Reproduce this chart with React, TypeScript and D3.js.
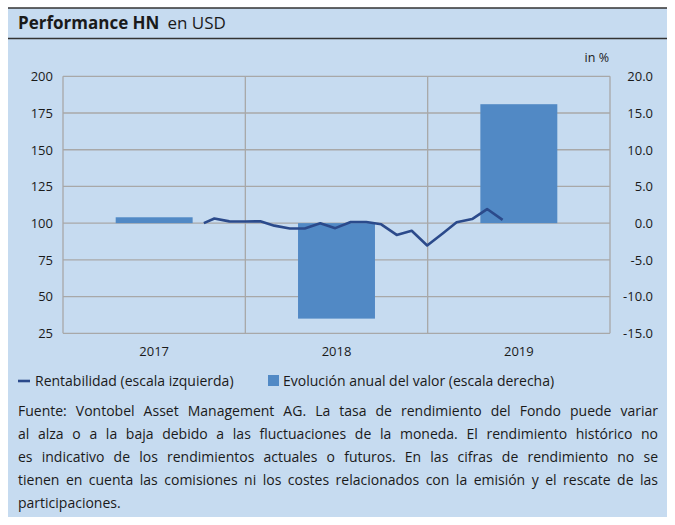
import React from "react";
import * as d3 from "d3";

const years = ["2017", "2018", "2019"];
const annualPerf = [0.8, -13.0, 16.2];

const lineDates = [
  "2017-10-10", "2017-10-31", "2017-11-30", "2017-12-31",
  "2018-01-31", "2018-02-28", "2018-03-31", "2018-04-30", "2018-05-31", "2018-06-30",
  "2018-07-31", "2018-08-31", "2018-09-30", "2018-10-31", "2018-11-30", "2018-12-31",
  "2019-01-31", "2019-02-28", "2019-03-31", "2019-04-30", "2019-05-31",
];
const lineValues = [
  100, 103.2, 101.2, 101.1,
  101.3, 98.3, 96.4, 96.4, 99.9, 96.6,
  100.8, 100.8, 99.2, 92.0, 94.8, 84.8,
  93.0, 100.6, 102.8, 109.6, 102.2,
];

const leftTicks = [25, 50, 75, 100, 125, 150, 175, 200];
const rightTicks = [-15, -10, -5, 0, 5, 10, 15, 20];

const footerLines = [
  "Fuente: Vontobel Asset Management AG. La tasa de rendimiento del Fondo puede variar",
  "al alza o a la baja debido a las fluctuaciones de la moneda. El rendimiento histórico no",
  "es indicativo de los rendimientos actuales o futuros. En las cifras de rendimiento no se",
  "tienen en cuenta las comisiones ni los costes relacionados con la emisión y el rescate de las",
  "participaciones.",
];

const FONT = "'Open Sans', 'Noto Sans', sans-serif";
const BG = "#c6dbf0";
const BAR = "#5189c5";
const LINE = "#2b4a8b";
const GRID = "#a8a8a8";
const TXT = "#1a1a1a";

let ctx: CanvasRenderingContext2D | null = null;
function measure(text: string, font: string): number {
  if (!ctx) ctx = document.createElement("canvas").getContext("2d");
  if (!ctx) return text.length * 7;
  ctx.font = font;
  return ctx.measureText(text).width;
}

export default function App() {
  const W = 675, H = 525;
  const x0 = 63, x1 = 610, yTop = 76.3, yBot = 333.3;

  const xTime = d3.scaleTime()
    .domain([new Date(2017, 0, 1), new Date(2020, 0, 1)])
    .range([x0, x1]);
  const xBand = d3.scaleBand<string>().domain(years).range([x0, x1])
    .paddingInner(0.578).paddingOuter(0.289);
  const xCat = d3.scaleBand<string>().domain(years).range([x0, x1]);
  const yL = d3.scaleLinear().domain([25, 200]).range([yBot, yTop]);
  const yR = d3.scaleLinear().domain([-15, 20]).range([yBot, yTop]);

  const pts = lineDates.map((d, i) => [xTime(d3.timeParse("%Y-%m-%d")(d) as Date), yL(lineValues[i])] as [number, number]);
  const linePath = d3.line()(pts) || "";

  const fSize = 14;
  const fFont = `${fSize}px 'Open Sans'`;
  const tx0 = 18, tx1 = 658;

  return (
    <svg width={W} height={H} style={{ position: "absolute", left: 0, top: 0 }} fontFamily={FONT}>
      <rect x={8} y={8} width={659} height={509} fill={BG} />
      <line x1={8} x2={667} y1={8} y2={8} stroke="#333" strokeWidth={1.5} />
      <line x1={8} x2={667} y1={38.5} y2={38.5} stroke="#333" strokeWidth={1.3} />
      <text x={18} y={29} fontSize={17} fill={TXT}>
        <tspan fontWeight="bold">Performance HN</tspan>
        <tspan dx={8}>en USD</tspan>
      </text>

      <text x={609} y={62} fontSize={12.5} textAnchor="end" fill={TXT}>in %</text>

      {/* horizontal grid */}
      {leftTicks.map((t) => (
        <line key={"h" + t} x1={x0} x2={x1} y1={yL(t)} y2={yL(t)} stroke={GRID} strokeWidth={1.3} />
      ))}
      {/* vertical grid */}
      {[x0, ...years.slice(1).map((y) => xCat(y) as number), x1].map((xv, i) => (
        <line key={"v" + i} x1={xv} x2={xv} y1={yTop} y2={yBot} stroke={GRID} strokeWidth={1.3} />
      ))}

      {/* bars */}
      {years.map((y, i) => {
        const v = annualPerf[i];
        const yv = yR(v), y0 = yR(0);
        return (
          <rect key={"b" + y} x={xBand(y)} width={xBand.bandwidth()}
            y={Math.min(yv, y0)} height={Math.abs(yv - y0)} fill={BAR} />
        );
      })}

      {/* line */}
      <path d={linePath} fill="none" stroke={LINE} strokeWidth={2.6} strokeLinejoin="round" />

      {/* left ticks */}
      {leftTicks.map((t) => (
        <text key={"l" + t} x={53} y={yL(t) + 4.8} fontSize={13} textAnchor="end" fill={TXT}>{t}</text>
      ))}
      {rightTicks.map((t) => (
        <text key={"r" + t} x={653} y={yR(t) + 4.8} fontSize={13} textAnchor="end" fill={TXT}>{t.toFixed(1)}</text>
      ))}
      {years.map((y) => (
        <text key={"x" + y} x={(xCat(y) as number) + xCat.bandwidth() / 2} y={356} fontSize={13} textAnchor="middle" fill={TXT}>{y}</text>
      ))}

      {/* legend */}
      <line x1={18} x2={30} y1={381} y2={381} stroke={LINE} strokeWidth={2.6} />
      <text x={35} y={386} fontSize={14} fill={TXT}>Rentabilidad (escala izquierda)</text>
      <rect x={268} y={375} width={11} height={11} fill={BAR} />
      <text x={283} y={386} fontSize={14} fill={TXT}>Evolución anual del valor (escala derecha)</text>

      {/* footer */}
      {footerLines.map((ln, i) => {
        const last = i === footerLines.length - 1;
        const words = ln.split(" ");
        const natural = measure(ln, fFont);
        const spaces = words.length - 1;
        const ws = last || spaces === 0 ? 0 : (tx1 - tx0 - natural) / spaces;
        return (
          <text key={"f" + i} x={tx0} y={416 + i * 23.1} fontSize={fSize} fill={TXT}
            style={{ wordSpacing: `${ws}px` }}>{ln}</text>
        );
      })}
    </svg>
  );
}
